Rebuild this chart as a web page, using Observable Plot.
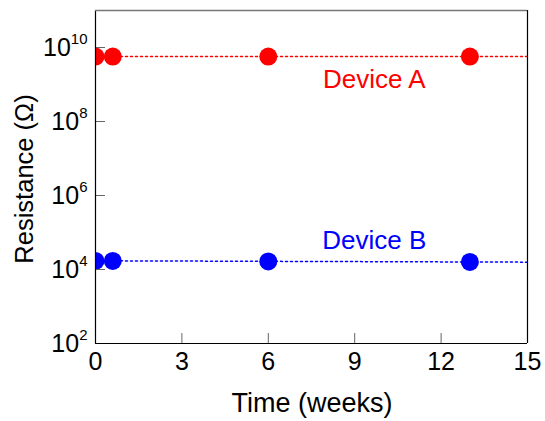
<!DOCTYPE html>
<html><head><meta charset="utf-8">
<script src="https://cdn.jsdelivr.net/npm/d3@7"></script>
<script src="https://cdn.jsdelivr.net/npm/@observablehq/plot@0.6"></script>
<style>
body{margin:0;background:#fff}
#chart svg text{font-family:Arial,"Liberation Sans",sans-serif !important;}
</style>
</head><body><div id="chart"></div>
<script>
const weeks = [0, 0.6, 6, 13];
const deviceA = [5.7e9, 5.7e9, 5.7e9, 5.7e9];
const deviceB = [1.7e4, 1.7e4, 1.65e4, 1.6e4];
const fitX = [0, 15];
const fitA = [5.7e9, 5.7e9];
const fitB = [1.72e4, 1.58e4];
const xTicks = [0, 3, 6, 9, 12, 15];
const yTicks = [1e2, 1e4, 1e6, 1e8, 1e10];
const labels = [{x: 9.68, y: 1.36e9, text: "Device A", color: "red"}, {x: 9.68, y: 6.1e4, text: "Device B", color: "blue"}];

const ptsA = weeks.map((w, i) => ({w, v: deviceA[i]}));
const ptsB = weeks.map((w, i) => ({w, v: deviceB[i]}));
const lineA = fitX.map((w, i) => ({w, v: fitA[i]}));
const lineB = fitX.map((w, i) => ({w, v: fitB[i]}));

const plot = Plot.plot({
  width: 545, height: 421,
  marginLeft: 95, marginRight: 18, marginTop: 10, marginBottom: 78,
  style: {color: "black", background: "white", overflow: "visible"},
  x: {domain: [0, 15]},
  y: {type: "log", domain: [1e2, 1e11]},
  marks: [
    Plot.line(lineA, {x: "w", y: "v", stroke: "red", strokeWidth: 1.5, strokeDasharray: "2,3", clip: true}),
    Plot.line(lineB, {x: "w", y: "v", stroke: "blue", strokeWidth: 1.5, strokeDasharray: "2,3", clip: true}),
    Plot.dot(ptsA, {x: "w", y: "v", r: 9, fill: "red", clip: true}),
    Plot.dot(ptsB, {x: "w", y: "v", r: 9, fill: "blue", clip: true}),
    Plot.text(labels, {x: "x", y: "y", text: "text", fill: "color", fontSize: 26}),
    Plot.axisX({ticks: xTicks.slice(1, -1), tickSize: -10, tickFormat: () => "", stroke: "#666"}),
    Plot.axisY({ticks: yTicks, tickSize: -10, tickFormat: () => "", stroke: "#666"}),
    Plot.text(xTicks, {x: d => d, frameAnchor: "bottom", dy: 26, text: d => String(d), fontSize: 25, fill: "black"}),
    Plot.text(yTicks, {y: d => d, frameAnchor: "left", dx: -8, textAnchor: "end", text: d => "10^" + Math.round(Math.log10(d)), fontSize: 25, fill: "black"}),
    Plot.ruleX([0], {stroke: "black", strokeWidth: 1.2}),
    Plot.ruleX([15], {stroke: "black", strokeWidth: 1.2}),
    Plot.ruleY([1e2], {stroke: "black", strokeWidth: 1.2}),
    Plot.ruleY([1e11], {stroke: "#777", strokeWidth: 1.5})
  ]
});

d3.select(plot).selectAll("text").each(function() {
  const t = this.textContent;
  const sel = d3.select(this);
  const m = /^10\^(\d+)$/.exec(t);
  if (m) {
    sel.text(null);
    sel.append("tspan").text("10");
    sel.append("tspan").attr("dy", "-12px").attr("font-size", 15).text(m[1]);
  }
});

const svg = d3.select(plot);
svg.append("text").attr("x", 312).attr("y", 412).attr("text-anchor", "middle")
  .style("font-size", "27px", "important").text("Time (weeks)");
svg.append("text").attr("transform", "translate(33,179) rotate(-90)").attr("text-anchor", "middle")
  .style("font-size", "25.5px", "important").text("Resistance (Ω)");

document.getElementById("chart").appendChild(plot);
</script></body></html>
